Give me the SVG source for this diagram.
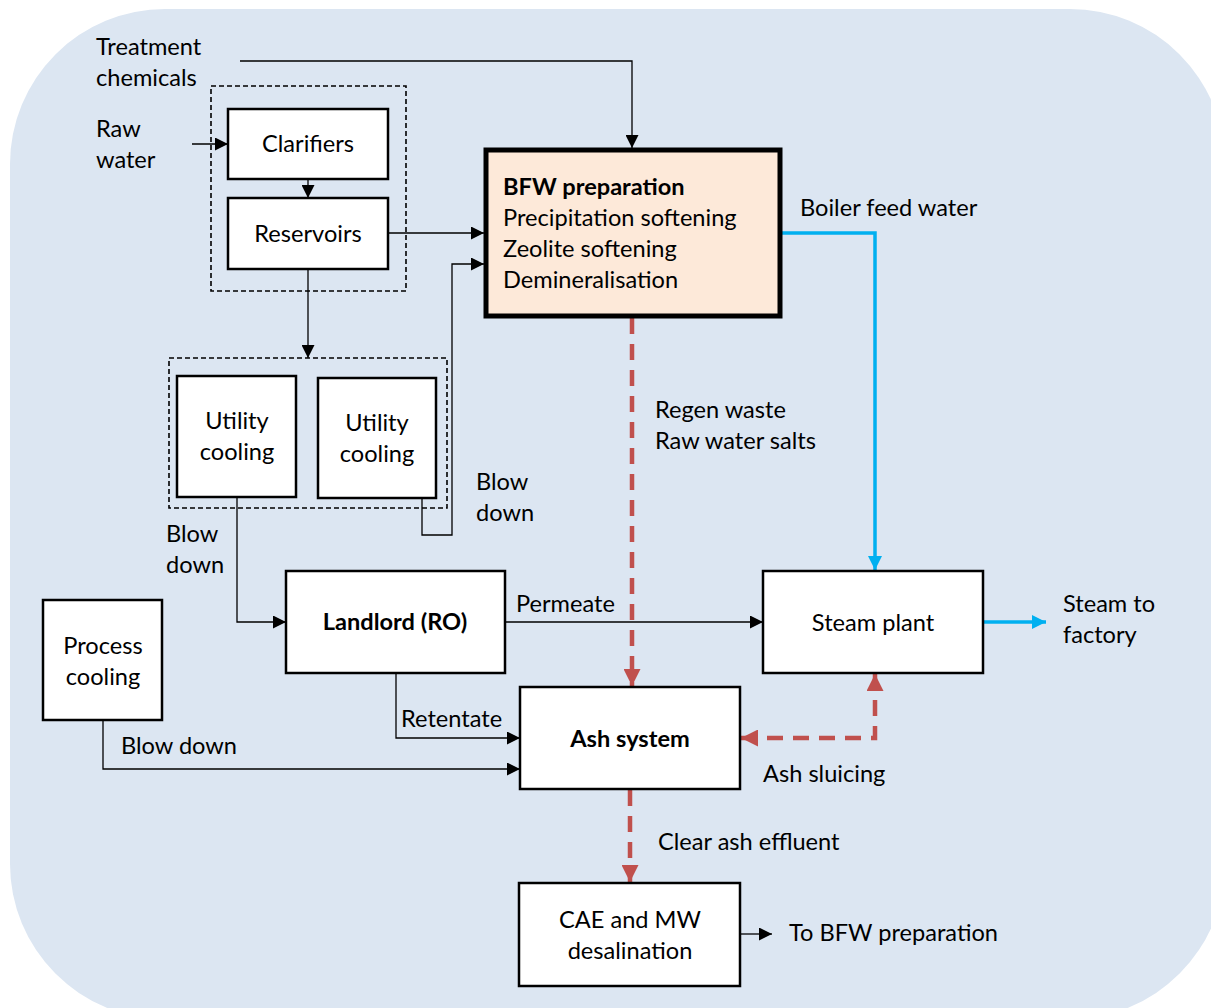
<svg xmlns="http://www.w3.org/2000/svg" width="1211" height="1008" viewBox="0 0 1211 1008">
<defs>
<style>
text{font-family:Lato,"Open Sans","Liberation Sans",sans-serif;font-size:23.6px;fill:#000}
.b{font-weight:bold}
.m{text-anchor:middle}
.box{fill:#fff;stroke:#000;stroke-width:2.5}
.grp{fill:none;stroke:#000;stroke-width:1.6;stroke-dasharray:5 3}
.ln{fill:none;stroke:#000;stroke-width:1.3}
.blue{fill:none;stroke:#00B0F0;stroke-width:3.5}
.red{fill:none;stroke:#C0504D;stroke-width:4.5;stroke-dasharray:16 10}
</style>
<marker id="ak" viewBox="0 0 10 10" refX="10" refY="5" markerWidth="13" markerHeight="13" markerUnits="userSpaceOnUse" orient="auto"><path d="M0,0L10,5L0,10z" fill="#000"/></marker>
<marker id="ab" viewBox="0 0 10 10" refX="10" refY="5" markerWidth="14" markerHeight="14" markerUnits="userSpaceOnUse" orient="auto"><path d="M0,0L10,5L0,10z" fill="#00B0F0"/></marker>
<marker id="ar" viewBox="0 0 10 10" refX="10" refY="5" markerWidth="17" markerHeight="17" markerUnits="userSpaceOnUse" orient="auto-start-reverse"><path d="M0,0L10,5L0,10z" fill="#C0504D"/></marker>
</defs>
<rect x="10" y="9" width="1215" height="1010" rx="155" ry="155" fill="#DCE6F2"/>

<g id="connectors">
<polyline class="ln" points="240,61 632,61 632,148" marker-end="url(#ak)"/>
<line class="ln" x1="192" y1="144" x2="228" y2="144" marker-end="url(#ak)"/>
<line class="ln" x1="308" y1="179" x2="308" y2="198" marker-end="url(#ak)"/>
<line class="ln" x1="388" y1="233" x2="484" y2="233" marker-end="url(#ak)"/>
<line class="ln" x1="308" y1="269" x2="308" y2="358" marker-end="url(#ak)"/>
<polyline class="ln" points="422,498 422,535 452,535 452,264 484,264" marker-end="url(#ak)"/>
<polyline class="ln" points="237,497 237,622 286,622" marker-end="url(#ak)"/>
<line class="ln" x1="505" y1="622" x2="763" y2="622" marker-end="url(#ak)"/>
<polyline class="ln" points="396,673 396,738 520,738" marker-end="url(#ak)"/>
<polyline class="ln" points="103,720 103,769 520,769" marker-end="url(#ak)"/>
<line class="ln" x1="740" y1="934" x2="772" y2="934" marker-end="url(#ak)"/>
<polyline class="blue" points="780,233 875,233 875,570" marker-end="url(#ab)"/>
<line class="blue" x1="983" y1="622" x2="1046" y2="622" marker-end="url(#ab)"/>
<line class="red" x1="632" y1="318" x2="632" y2="686" marker-end="url(#ar)"/>
<polyline class="red" points="875,674 875,738 741,738" marker-start="url(#ar)" marker-end="url(#ar)"/>
<line class="red" x1="630" y1="790" x2="630" y2="882" marker-end="url(#ar)"/>
</g>

<g id="labels">
<text x="96" y="55">Treatment</text>
<text x="96" y="86">chemicals</text>
<text x="96" y="137">Raw</text>
<text x="96" y="168">water</text>
<text x="800" y="216">Boiler feed water</text>
<text x="655" y="418">Regen waste</text>
<text x="655" y="449">Raw water salts</text>
<text x="476" y="490">Blow</text>
<text x="476" y="521">down</text>
<text x="166" y="542">Blow</text>
<text x="166" y="573">down</text>
<text x="516" y="612">Permeate</text>
<text x="1063" y="612">Steam to</text>
<text x="1063" y="643">factory</text>
<text x="401" y="727">Retentate</text>
<text x="121" y="754">Blow down</text>
<text x="763" y="782">Ash sluicing</text>
<text x="658" y="850">Clear ash effluent</text>
<text x="789" y="941">To BFW preparation</text>
</g>

<g id="treatment-group">
<rect class="grp" x="211" y="86" width="195" height="205"/>
</g>
<g id="clarifiers">
<rect class="box" x="228" y="109" width="160" height="70"/>
<text class="m" x="308" y="152">Clarifiers</text>
</g>
<g id="reservoirs">
<rect class="box" x="228" y="198" width="160" height="71"/>
<text class="m" x="308" y="242">Reservoirs</text>
</g>
<g id="bfw-preparation">
<rect x="486" y="150" width="294" height="166" fill="#FDE9D9" stroke="#000" stroke-width="5"/>
<text class="b" x="503" y="195">BFW preparation</text>
<text x="503" y="226">Precipitation softening</text>
<text x="503" y="257">Zeolite softening</text>
<text x="503" y="288">Demineralisation</text>
</g>
<g id="cooling-group">
<rect class="grp" x="169" y="358" width="278" height="150"/>
</g>
<g id="utility-cooling-1">
<rect class="box" x="177" y="376" width="119" height="121"/>
<text class="m" x="237" y="429">Utility</text>
<text class="m" x="237" y="460">cooling</text>
</g>
<g id="utility-cooling-2">
<rect class="box" x="318" y="378" width="118" height="120"/>
<text class="m" x="377" y="431">Utility</text>
<text class="m" x="377" y="462">cooling</text>
</g>
<g id="landlord-ro">
<rect class="box" x="286" y="571" width="219" height="102"/>
<text class="m b" x="395" y="630">Landlord (RO)</text>
</g>
<g id="steam-plant">
<rect class="box" x="763" y="571" width="220" height="102"/>
<text class="m" x="873" y="631">Steam plant</text>
</g>
<g id="process-cooling">
<rect class="box" x="43" y="600" width="119" height="120"/>
<text class="m" x="103" y="654">Process</text>
<text class="m" x="103" y="685">cooling</text>
</g>
<g id="ash-system">
<rect class="box" x="520" y="687" width="220" height="102"/>
<text class="m b" x="630" y="747">Ash system</text>
</g>
<g id="cae-mw-desalination">
<rect class="box" x="519" y="883" width="221" height="103"/>
<text class="m" x="630" y="928">CAE and MW</text>
<text class="m" x="630" y="959">desalination</text>
</g>
</svg>
